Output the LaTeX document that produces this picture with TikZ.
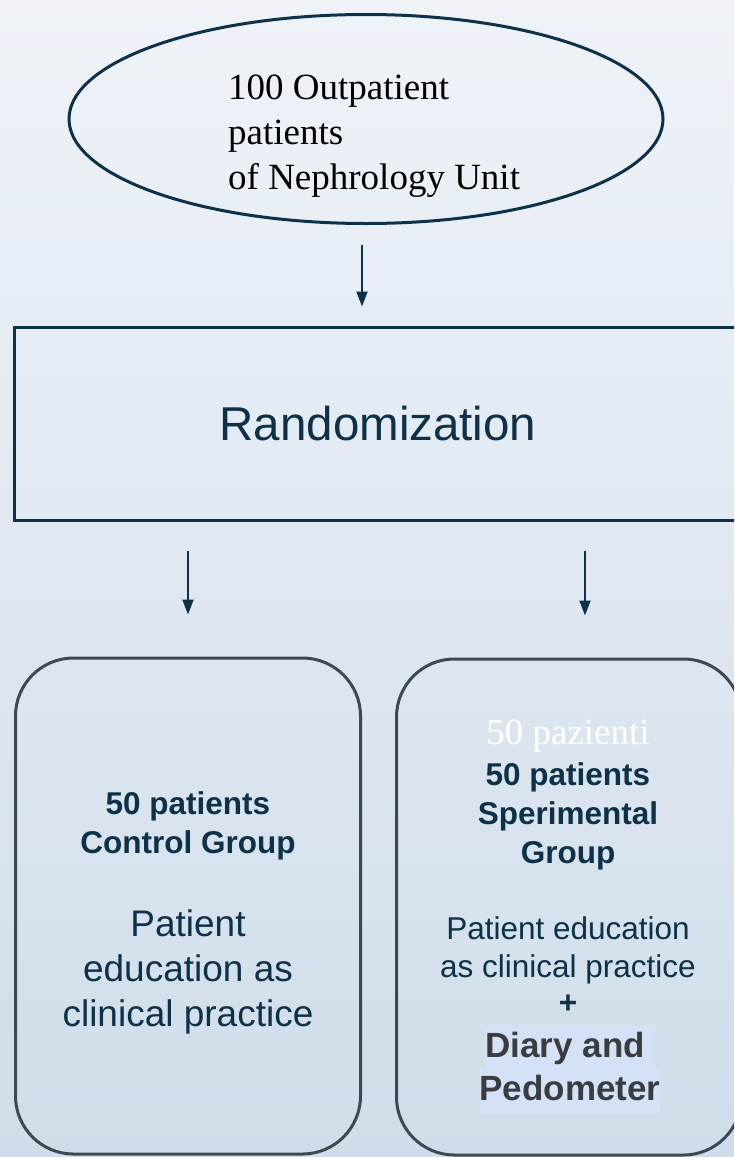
\documentclass[tikz,border=0pt]{standalone}
\usepackage{fontspec}
\setmainfont{Liberation Serif}
\setsansfont{Liberation Sans}
\usepackage{tikz}
\usetikzlibrary{
	arrows.meta,
	shapes.geometric
}
\definecolor{navy}{HTML}{0C3149}
\definecolor{boxgray}{HTML}{3D4855}
\definecolor{bgtop}{HTML}{EFF3F8}
\definecolor{bgbottom}{HTML}{CFDDEA}
\definecolor{hiliteblue}{HTML}{D3E2F7}
\definecolor{diarygray}{HTML}{3A3C40}
\newcommand{\hilite}[1]{{\setlength{\fboxsep}{0pt}\colorbox{hiliteblue}{\strut #1}}}

\begin{document}
\begin{tikzpicture}[x=1pt, y=-1pt,
    flowarrow/.style={navy, line width=2pt, -{Triangle[length=15pt, width=11pt]}},
    groupbox/.style={draw=boxgray, line width=3pt, rounded corners=58pt,
        minimum width=345pt, minimum height=496pt, inner sep=0pt},
    headtext/.style={anchor=north, align=center, inner sep=0pt, text=navy,
        font=\sffamily\bfseries\fontsize{31.5}{39}\selectfont},
    bodytext/.style={anchor=north, align=center, inner sep=0pt, text=navy}
]
    % Definitions
    \def \width{734}
    \def \height{1157}
    % Background
    \shade[top color=bgtop, bottom color=bgbottom] (0,0) rectangle (\width,\height);
    \useasboundingbox (0,0) rectangle (\width,\height);
    \clip (0,0) rectangle (\width,\height);
    %%%
    %%% Population
    %%%
    \node[ellipse, draw=navy, line width=3pt, minimum width=594pt, minimum height=209pt] (pop) at (366,119) {};
    \node[anchor=north west, align=left, inner sep=0pt, font=\fontsize{37}{45}\selectfont] (poptext) at (228,75)
        {100 Outpatient\\patients\\of Nephrology Unit};
    %%%
    %%% Randomization
    %%%
    \node[draw=navy, line width=3pt, minimum width=728pt, minimum height=193pt, text=navy,
        font=\sffamily\fontsize{47.5}{56}\selectfont] (rand) at (378,423.5) {Randomization};
    \draw[flowarrow, shorten <=20pt, shorten >=19pt] ([xshift=-4pt]pop.south) -- ([xshift=-4pt]pop.south |- rand.north);
    %%%
    %%% Groups
    %%%
    \node[groupbox] (ctrl) at (188,906) {};
    \node[groupbox] (exp) at (569,907) {};
    \foreach \grp/\dx in {ctrl/0, exp/16}
    {
        \draw[flowarrow, shorten <=29pt, shorten >=42pt] ([xshift=\dx pt]rand.south -| \grp.north) -- ([xshift=\dx pt]\grp.north);
    }
    % Control group text
    \node[headtext] (ctrlhead) at (188,791) {50 patients\\Control Group};
    \node[bodytext, font=\sffamily\fontsize{37}{45}\selectfont] (ctrlbody) at (188,909)
        {Patient\\education as\\clinical practice};
    % Sperimental group text
    \node[anchor=north, inner sep=0pt, text=white, font=\fontsize{37}{45}\selectfont] (exphidden) at (568,720) {50 pazienti};
    \node[headtext] (exphead) at (568,762) {50 patients\\Sperimental\\Group};
    \node[bodytext, font=\sffamily\fontsize{31.5}{38}\selectfont] (expbody) at (568,916)
        {Patient education\\as clinical practice};
    \node[inner sep=0pt, text=navy, font=\sffamily\bfseries\fontsize{31.5}{38}\selectfont] (expplus) at (568,1004) {+};
    \node[anchor=north, align=center, inner sep=0pt, text=diarygray,
        font=\sffamily\bfseries\fontsize{35}{43}\selectfont] (expdiary) at (570,1027)
        {\hilite{Diary and~}\\\hilite{Pedometer}};
\end{tikzpicture}
\end{document}
